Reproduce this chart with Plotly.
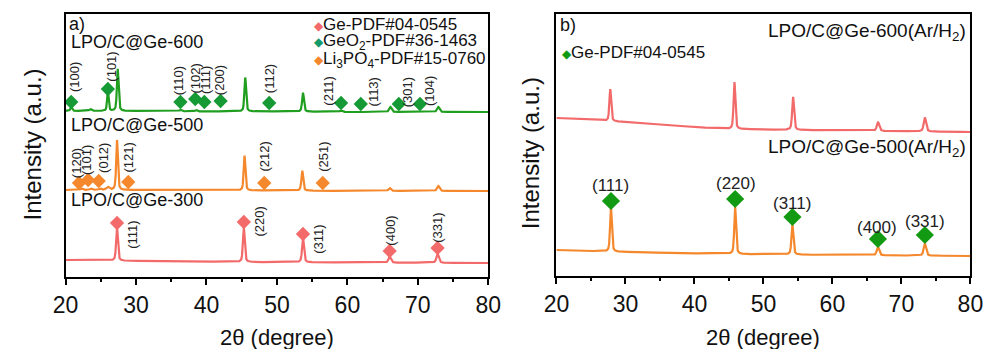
import numpy as np
import plotly.graph_objects as go

W, H = 998, 349

# ---------------- data ----------------
two_theta = np.round(np.arange(20, 80.0001, 0.01), 3)

# Panel a: LPO/C@Ge-600 (green)
a600_base_x = [20, 30, 40, 50, 60, 70, 80]
a600_base_y = [166, 166, 165.5, 165.5, 165, 165, 165]
a600_peak_pos = [20.8, 23.5, 26.0, 27.4, 36.3, 38.5, 45.5, 53.7, 59.1, 66.1, 72.9]
a600_peak_h = [4, 2, 20, 42, 1.5, 1.5, 34, 19, 1.5, 5, 5]
a600_peak_w = [0.3, 0.4, 0.25, 0.28, 0.4, 0.4, 0.28, 0.3, 0.4, 0.4, 0.4]

# Panel a: LPO/C@Ge-500 (orange)
a500_base_x = [20, 30, 40, 50, 60, 70, 80]
a500_base_y = [87, 87, 86.5, 86.5, 86, 86, 86]
a500_peak_pos = [22.3, 23.6, 24.9, 26.0, 27.3, 45.4, 53.6, 66.0, 72.9]
a500_peak_h = [1.5, 1.5, 1.5, 3, 50, 35, 20, 3, 5]
a500_peak_w = [0.4, 0.4, 0.4, 0.5, 0.28, 0.28, 0.3, 0.4, 0.4]

# Panel a: LPO/C@Ge-300 (red)
a300_base_x = [20, 30, 45, 60, 80]
a300_base_y = [17, 16, 15, 14.5, 14]
a300_peak_pos = [27.3, 45.3, 53.7, 66.0, 72.8]
a300_peak_h = [33, 34, 24, 6, 9]
a300_peak_w = [0.3, 0.3, 0.32, 0.4, 0.4]

# Panel b: LPO/C@Ge-600(Ar/H2) (red)
b600_base_x = [20, 30, 40, 45, 55, 80]
b600_base_y = [158, 154, 149, 147, 146, 144]
b600_peak_pos = [27.8, 45.8, 54.3, 66.6, 73.4]
b600_peak_h = [32, 47, 33, 9, 14]
b600_peak_w = [0.3, 0.3, 0.32, 0.4, 0.4]

# Panel b: LPO/C@Ge-500(Ar/H2) (orange)
b500_base_x = [20, 30, 45, 60, 80]
b500_base_y = [26, 24, 22, 21, 20]
b500_peak_pos = [27.9, 45.9, 54.2, 66.6, 73.4]
b500_peak_h = [44, 47, 30, 8.5, 12]
b500_peak_w = [0.3, 0.3, 0.32, 0.4, 0.4]

# Reference markers, panel a
ge_a_pos = [27.3, 45.3, 53.7, 66.0, 72.8]
ge_a_y = [54, 55, 43, 26, 29]
ge_a_hkl = ["(111)", "(220)", "(311)", "(400)", "(331)"]
ge_a_lab_x = [29.4, 47.4, 55.8, 66.0, 72.7]
ge_a_lab_y = [42, 55, 38, 46, 49]

geo2_pos = [20.8, 26.0, 36.3, 38.4, 39.7, 42.0, 48.9, 59.1, 61.9, 67.3, 70.3]
geo2_y = [175, 188, 175, 178, 175, 176, 174, 174, 173, 173, 173]
geo2_hkl = ["(100)", "(101)", "(110)", "(102)", "(111)", "(200)", "(112)",
            "(211)", "(113)", "(301)", "(104)"]
geo2_lab_x = [21.2, 26.4, 36.0, 38.3, 39.8, 41.8, 48.9, 57.2, 63.7, 68.5, 71.6]
geo2_lab_y = [200, 210, 196, 198, 197, 197, 198, 186, 185, 185, 186]

lpo_pos = [21.9, 23.2, 24.7, 28.9, 48.2, 56.5]
lpo_y = [94, 97, 96, 95, 94, 94]
lpo_hkl = ["(120)", "(101)", "(012)", "(121)", "(212)", "(251)"]
lpo_lab_x = [21.5, 22.9, 25.3, 28.8, 48.1, 56.5]
lpo_lab_y = [114, 117, 119, 119, 120, 120]

# Reference markers, panel b
ge_b_pos = [27.9, 45.9, 54.2, 66.6, 73.4]
ge_b_y = [75, 77, 59, 37, 41]
ge_b_hkl = ["(111)", "(220)", "(311)", "(400)", "(331)"]
ge_b_lab_x = [27.9, 46.0, 54.2, 66.4, 73.4]
ge_b_lab_y = [91, 93, 73, 49, 55]

x_ticks = [20, 30, 40, 50, 60, 70, 80]
legend_a = ["Ge-PDF#04-0545", "GeO<sub>2</sub>-PDF#36-1463",
            "Li<sub>3</sub>PO<sub>4</sub>-PDF#15-0760"]
legend_b = ["Ge-PDF#04-0545"]

# ---------------- styles ----------------
RED = "#f26a6a"
ORANGE = "#f5882c"
GREEN = "#1f9e1f"
GREEN_D = "#159a35"
TEAL = "#16996a"
FONT = "Arial, 'Liberation Sans', sans-serif"


def pattern(bx, by, pos, h, w):
    y = np.interp(two_theta, bx, by)
    for p, hh, ww in zip(pos, h, w):
        g = (ww / 2) ** 2 / ((two_theta - p) ** 2 + (ww / 2) ** 2)
        ga = np.exp(-4 * np.log(2) * (two_theta - p) ** 2 / ww ** 2)
        y = y + hh * (0.5 * g + 0.5 * ga)
    return y


fig = go.Figure()

def line(y, color, xa, ya):
    fig.add_trace(go.Scatter(x=two_theta, y=y, mode="lines",
                             line=dict(color=color, width=2.2),
                             xaxis=xa, yaxis=ya, showlegend=False,
                             hoverinfo="skip"))

line(pattern(a600_base_x, a600_base_y, a600_peak_pos, a600_peak_h, a600_peak_w), GREEN, "x", "y")
line(pattern(a500_base_x, a500_base_y, a500_peak_pos, a500_peak_h, a500_peak_w), ORANGE, "x", "y")
line(pattern(a300_base_x, a300_base_y, a300_peak_pos, a300_peak_h, a300_peak_w), RED, "x", "y")
line(pattern(b600_base_x, b600_base_y, b600_peak_pos, b600_peak_h, b600_peak_w), RED, "x2", "y2")
line(pattern(b500_base_x, b500_base_y, b500_peak_pos, b500_peak_h, b500_peak_w), ORANGE, "x2", "y2")


def markers(xs, ys, color, size, xa, ya):
    fig.add_trace(go.Scatter(x=xs, y=ys, mode="markers",
                             marker=dict(symbol="diamond", size=size, color=color,
                                         line=dict(width=0)),
                             xaxis=xa, yaxis=ya, showlegend=False, hoverinfo="skip"))

markers(ge_a_pos, ge_a_y, RED, 11, "x", "y")
markers(geo2_pos, geo2_y, GREEN_D, 11, "x", "y")
markers(lpo_pos, lpo_y, ORANGE, 11, "x", "y")
markers(ge_b_pos, ge_b_y, "#139a13", 14, "x2", "y2")

ann = []

def rot_labels(xs, ys, texts, xr, yr):
    for x, y, t in zip(xs, ys, texts):
        ann.append(dict(x=x, y=y, xref=xr, yref=yr, text=t, textangle=-90,
                        showarrow=False, font=dict(size=13, color="#222", family=FONT),
                        xanchor="center", yanchor="middle"))

rot_labels(ge_a_lab_x, ge_a_lab_y, ge_a_hkl, "x", "y")
rot_labels(geo2_lab_x, geo2_lab_y, geo2_hkl, "x", "y")
rot_labels(lpo_lab_x, lpo_lab_y, lpo_hkl, "x", "y")

for x, y, t in zip(ge_b_lab_x, ge_b_lab_y, ge_b_hkl):
    ann.append(dict(x=x, y=y, xref="x2", yref="y2", text=t, showarrow=False,
                    font=dict(size=17, color="#222", family=FONT),
                    xanchor="center", yanchor="middle"))


def px(x):
    return x / W

def py(y):
    return 1 - y / H

def txt(x, y, t, size, xanchor="left"):
    ann.append(dict(x=px(x), y=py(y), xref="paper", yref="paper", text=t,
                    showarrow=False, font=dict(size=size, color="#111", family=FONT),
                    xanchor=xanchor, yanchor="middle"))

txt(55, 24, "a)", 18)
txt(57, 42, "LPO/C@Ge-600", 18)
txt(57, 125, "LPO/C@Ge-500", 18)
txt(57, 200, "LPO/C@Ge-300", 18)

leg_colors_a = [RED, TEAL, ORANGE]
for i, (t, c) in enumerate(zip(legend_a, leg_colors_a)):
    txt(307, 25 + i * 17.5, f'<span style="color:{c};font-size:12px">◆</span>{t}', 17)

txt(560, 25, "b)", 18)
txt(562, 52, f'<span style="color:#139a13;font-size:12px">◆</span>{legend_b[0]}', 17)
txt(981, 32, "LPO/C@Ge-600(Ar/H<sub>2</sub>)", 19, "right")
txt(981, 148, "LPO/C@Ge-500(Ar/H<sub>2</sub>)", 19, "right")

# axis titles
for cx in (271, 770):
    ann.append(dict(x=px(cx), y=py(337), xref="paper", yref="paper",
                    text="2θ (degree)", showarrow=False,
                    font=dict(size=22, color="#111", family=FONT),
                    xanchor="center", yanchor="middle"))
for cx, cy in ((20, 144), (531, 153)):
    ann.append(dict(x=px(cx), y=py(cy), xref="paper", yref="paper",
                    text="Intensity (a.u.)", textangle=-90, showarrow=False,
                    font=dict(size=24, color="#111", family=FONT),
                    xanchor="center", yanchor="middle"))

xcommon = dict(range=[20, 80], tickvals=x_ticks, ticks="outside", ticklen=6,
               tickwidth=2, tickcolor="black", showline=True, linewidth=2,
               linecolor="black", mirror=True, showgrid=False, zeroline=False,
               tickfont=dict(size=23, color="#111", family=FONT),
               minor=dict(ticks="outside", ticklen=3, tickwidth=1.5,
                          tickcolor="black", tick0=20, dtick=5, showgrid=False))
ycommon = dict(showticklabels=False, ticks="", showline=True, linewidth=2,
               linecolor="black", mirror=True, showgrid=False, zeroline=False)

fig.update_layout(
    width=W, height=H, margin=dict(l=0, r=0, t=0, b=0),
    paper_bgcolor="white", plot_bgcolor="white",
    font=dict(family=FONT),
    xaxis=dict(domain=[px(54), px(488)], anchor="y", **xcommon),
    yaxis=dict(domain=[py(277), py(14)], range=[0, 263], anchor="x", **ycommon),
    xaxis2=dict(domain=[px(558), px(983)], anchor="y2", **xcommon),
    yaxis2=dict(domain=[py(276), py(14)], range=[0, 262], anchor="x2", **ycommon),
    annotations=ann,
    showlegend=False,
)

fig.write_html("out.html")
